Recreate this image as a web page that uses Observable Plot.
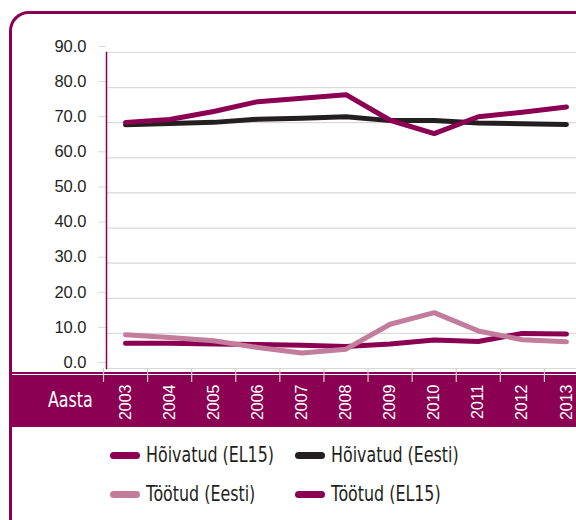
<!DOCTYPE html>
<html>
<head>
<meta charset="utf-8">
<script src="https://cdn.jsdelivr.net/npm/d3@7"></script>
<script src="https://cdn.jsdelivr.net/npm/@observablehq/plot@0.6"></script>
<style>
  html, body { margin: 0; padding: 0; width: 576px; height: 520px; overflow: hidden; background: #fff; }
  #wrap { position: relative; width: 576px; height: 520px; overflow: hidden; font-family: "DejaVu Sans Condensed", "Liberation Sans", sans-serif; }
  #frame { position: absolute; left: 9px; top: 11px; width: 700px; height: 700px; border: 3px solid #8b0052; border-top-left-radius: 20px; box-sizing: border-box; }
  #thin { position: absolute; left: 12px; right: 0; top: 372px; height: 1.5px; background: #8b0052; }
  #band { position: absolute; left: 12px; right: 0; top: 375px; height: 52px; background: #8b0052; }
  #aasta { position: absolute; left: 48px; top: 388px; color: #fff; font-size: 21px; line-height: 24px; transform: scaleX(0.84); transform-origin: left center; }
  #chart { position: absolute; left: 0; top: 0; }
  .item { position: absolute; height: 24px; display: flex; align-items: center; }
  .sw { width: 30px; height: 7px; border-radius: 4px; margin-right: 6px; flex: none; }
  .lab { display: inline-block; font-size: 21px; color: #231f20; white-space: nowrap; transform: scaleX(0.84); transform-origin: left center; }
</style>
</head>
<body>
<div id="wrap">
  <div id="frame"></div>
  <div id="thin"></div>
  <div id="band"></div>
  <div id="aasta">Aasta</div>
  <div id="chart"></div>
  <div id="legend"></div>
</div>
<script>
const years = [2003, 2004, 2005, 2006, 2007, 2008, 2009, 2010, 2011, 2012, 2013];
const hoivatudEL15  = [70.1, 70.9, 73.2, 76.0, 77.0, 78.0, 70.7, 66.9, 71.7, 73.0, 74.5];
const hoivatudEesti = [69.4, 69.8, 70.1, 71.0, 71.3, 71.7, 70.6, 70.6, 69.9, 69.7, 69.5];
const tootudEesti   = [9.6, 8.8, 7.9, 6.0, 4.4, 5.5, 12.6, 15.9, 10.7, 8.2, 7.6];
const tootudEL15    = [7.2, 7.2, 7.0, 6.8, 6.6, 6.3, 7.0, 8.1, 7.7, 10.0, 9.8];
const seriesNames  = ["Hõivatud (EL15)", "Hõivatud (Eesti)", "Töötud (Eesti)", "Töötud (EL15)"];
const seriesColors = ["#8b0052", "#231f20", "#c27c9c", "#8b0052"];
const yTicks = [0, 10, 20, 30, 40, 50, 60, 70, 80, 90];
const seriesValues = [hoivatudEL15, hoivatudEesti, tootudEesti, tootudEL15];
const drawOrder = [1, 0, 3, 2];

const rows = [];
drawOrder.forEach(i => years.forEach((yr, j) => rows.push({year: yr, value: seriesValues[i][j], series: seriesNames[i]})));
const boundaries = [years[0] - 0.5, ...years.map(y => y + 0.5)];

const font = '"Liberation Sans", Arial, sans-serif';
const chart = Plot.plot({
  width: 576,
  height: 430,
  marginTop: 52,
  marginBottom: 62,
  marginLeft: 106,
  marginRight: 0,
  style: {fontFamily: font, background: "transparent", overflow: "visible"},
  x: {type: "linear", domain: [years[0] - 0.5, years[years.length - 1] + 0.5], range: [103, 588]},
  y: {domain: [0, 90]},
  color: {domain: seriesNames, range: seriesColors},
  marks: [
    Plot.ruleY(yTicks, {stroke: "#d9d9d9", strokeWidth: 1.2}),
    Plot.axisY({ticks: yTicks, tickFormat: d => d.toFixed(1), tickSize: 8, stroke: "#d9d9d9", tickPadding: 12, fontSize: 16.5, dy: -6, fill: "#231f20", label: null}),
    Plot.axisX({ticks: boundaries, tickSize: 14, tickFormat: () => "", stroke: "#d0d0d0", strokeWidth: 1.2, label: null}),
    Plot.axisX({ticks: years, tickSize: 0, tickRotate: -90, tickPadding: 16, fontSize: 16, fill: "#fff", tickFormat: d => String(d), label: null}),
    Plot.frame({anchor: "left", stroke: "#8b0052", strokeWidth: 1.5}),
    Plot.line(rows, {x: "year", y: "value", z: "series", stroke: "series", strokeWidth: 5, strokeLinecap: "round", strokeLinejoin: "round"})
  ]
});
document.getElementById("chart").appendChild(chart);

const pos = [[110, 443], [295, 443], [110, 482], [295, 482]];
const legend = d3.select("#legend");
seriesNames.forEach((name, i) => {
  const it = legend.append("div").attr("class", "item").style("left", pos[i][0] + "px").style("top", pos[i][1] + "px");
  it.append("div").attr("class", "sw").style("background", seriesColors[i]);
  it.append("span").attr("class", "lab").text(name);
});
</script>
</body>
</html>
